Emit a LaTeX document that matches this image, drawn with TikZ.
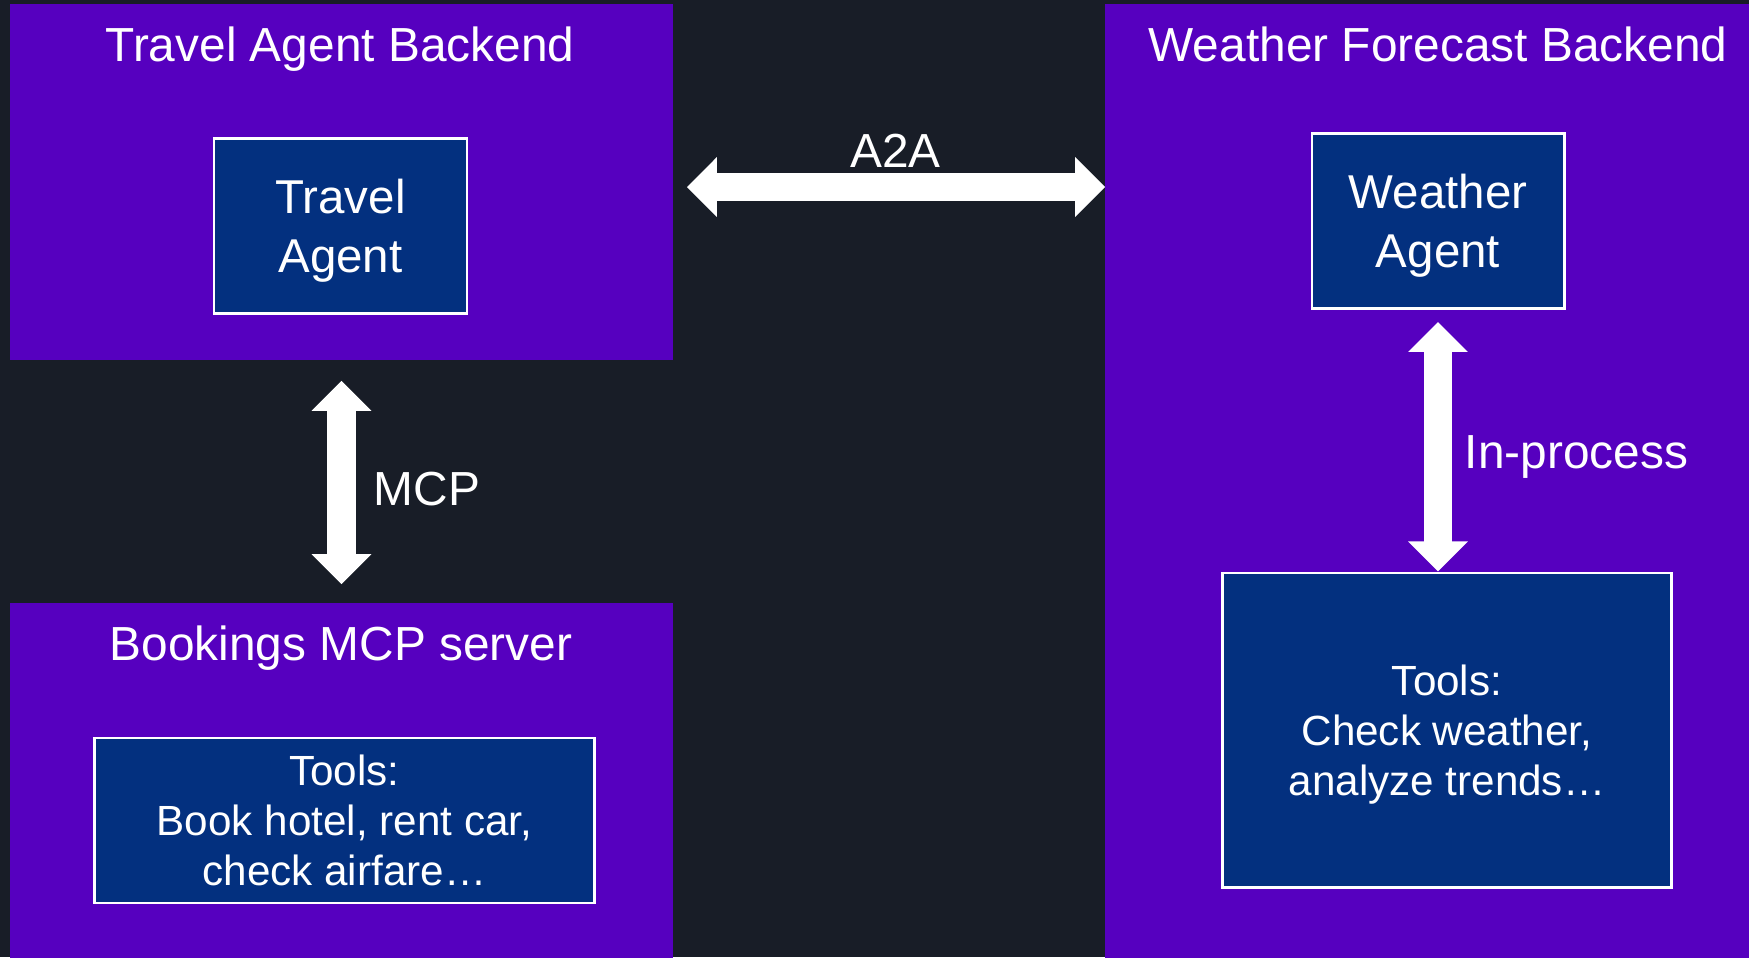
\documentclass[tikz,border=0pt]{standalone}
\usepackage{fontspec}
\setmainfont{Liberation Sans}
\usetikzlibrary{arrows.meta}
\definecolor{bgdark}{HTML}{181D27}
\definecolor{backendpurple}{HTML}{5600BF}
\definecolor{agentblue}{HTML}{03307F}

\begin{document}
\begin{tikzpicture}[x=0.01cm,y=-0.01cm]
    \tikzstyle{backend} = [rectangle, fill=backendpurple, inner sep=0pt]
    \tikzstyle{agentbox} = [rectangle, draw=white, line width=0.8pt, fill=agentblue, text=white, align=center, text depth=0pt, font=\fontsize{13.5}{16.8}\selectfont]
    \tikzstyle{toolbox} = [agentbox, font=\fontsize{12}{14.2}\selectfont]
    \tikzstyle{heading} = [anchor=base, text=white, inner sep=0pt, font=\fontsize{13.6}{16}\selectfont]
    \tikzstyle{proto} = [draw=white, line width=0.28cm, arrows={Triangle[width=0.58cm,length=0.3cm]-Triangle[width=0.58cm,length=0.3cm]}]
    \useasboundingbox (0,0) rectangle (1749,957);
    \clip (0,0) rectangle (1749,957);
    \fill[bgdark] (0,0) rectangle (1749,957);
    \node (tab) at (341.5,182) [backend, minimum width=6.63cm, minimum height=3.56cm] {};
    \node (wfb) at (1432.5,487) [backend, minimum width=6.55cm, minimum height=9.66cm] {};
    \node (bms) at (341.5,786.5) [backend, minimum width=6.63cm, minimum height=3.67cm] {};
    \node (tabtitle) at (340,61) [heading] {Travel Agent Backend};
    \node (wfbtitle) at (1438,61) [heading] {Weather Forecast Backend};
    \node (bmstitle) at (341,660) [heading] {Bookings MCP server};
    \node (ta) at (340.5,226) [agentbox, minimum width=2.53cm, minimum height=1.755cm] {Travel\\Agent};
    \node (wa) at (1438,221) [agentbox, minimum width=2.52cm, minimum height=1.75cm] {Weather\\Agent};
    \node (bmstools) at (344.5,820.5) [toolbox, minimum width=4.99cm, minimum height=1.65cm] {Tools:\\Book hotel, rent car,\\check airfare…};
    \node (wfbtools) at (1447,730) [toolbox, minimum width=4.48cm, minimum height=3.14cm] {Tools:\\Check weather,\\analyze trends…};
    \draw[proto] ([shift={(13,5)}]tab.east) -- ([shift={(1,5)}]tab.east -| wfb.west);
    \draw[proto] ([shift={(0,20)}]tab.south) -- ([shift={(0,-18)}]bms.north);
    \draw[proto] ([shift={(0,12)}]wa.south) -- (wa.south |- wfbtools.north);
    \node (a2a) at (895.5,167) [heading] {A2A};
    \node (mcp) at (373,505) [heading, anchor=base west] {MCP};
    \node (inproc) at (1464,468) [heading, anchor=base west] {In-process};
\end{tikzpicture}
\end{document}
